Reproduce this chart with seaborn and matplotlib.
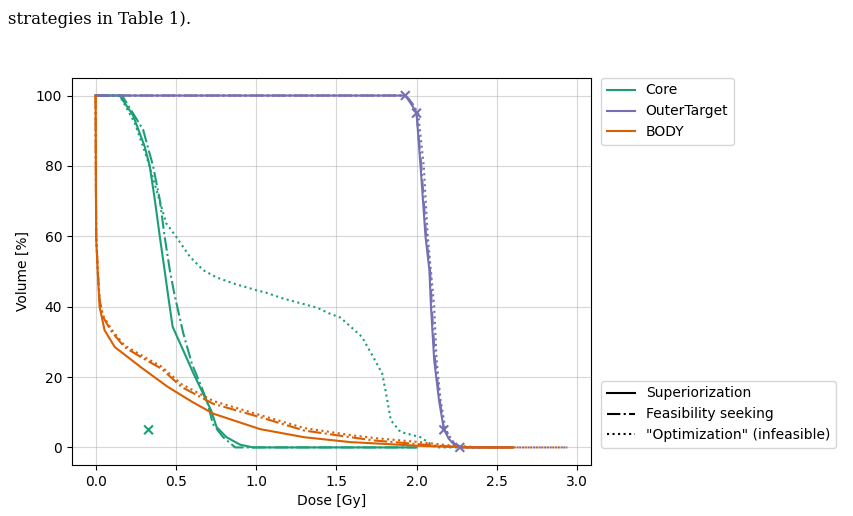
import matplotlib
matplotlib.use("Agg")
import matplotlib.pyplot as plt
import pandas as pd
import seaborn as sns
from matplotlib.lines import Line2D

# Datos (dosis en Gy, volumen en %)
structures = ["Core", "OuterTarget", "BODY"]
strategies = ["Superiorization", "Feasibility seeking", '"Optimization" (infeasible)']

core_sup_dose = [0.0, 0.15, 0.233, 0.306, 0.3375, 0.369, 0.40, 0.43, 0.45, 0.48, 0.546, 0.61, 0.67, 0.72, 0.754, 0.816, 0.90, 0.98, 2.0]
core_sup_vol = [100, 100, 94.4, 85.5, 80, 70.4, 60, 50.4, 43.8, 34.3, 27.6, 21, 15.3, 10.5, 5.8, 2.9, 0.8, 0, 0]
core_feas_dose = [0.0, 0.165, 0.296, 0.358, 0.40, 0.43, 0.4625, 0.49, 0.546, 0.60, 0.66, 0.70, 0.73, 0.795, 0.87, 2.0]
core_feas_vol = [100, 100, 90.3, 80, 70.4, 60, 50.4, 43.8, 32.5, 23.8, 17.2, 12.4, 6.7, 2.9, 0, 0]
core_opt_dose = [0.0, 0.15, 0.244, 0.317, 0.379, 0.44, 0.50, 0.5875, 0.67, 0.754, 0.858, 1.0, 1.06, 1.17, 1.30, 1.38, 1.46, 1.525, 1.59, 1.66, 1.73, 1.786, 1.81, 1.84, 1.90, 2.025, 2.08, 2.12, 2.3]
core_opt_vol = [100, 100, 92.2, 82.7, 73.2, 63.7, 60, 54.2, 50.4, 48.3, 46.6, 44.7, 44.0, 42.3, 40.7, 39.7, 38, 36.9, 34.3, 31.4, 25.7, 21, 15.4, 7.7, 4.4, 2.9, 1.2, 0, 0]

outer_sup_dose = [0.0, 1.93, 1.96, 2.0, 2.025, 2.056, 2.08, 2.09, 2.11, 2.14, 2.17, 2.20, 2.23, 2.27, 2.6]
outer_sup_vol = [100, 100, 98, 95.2, 79.9, 59.9, 50.4, 40, 24.8, 13.4, 5.3, 2.5, 1, 0, 0]
outer_feas_dose = [0.0, 1.93, 1.97, 2.0, 2.03, 2.06, 2.085, 2.095, 2.115, 2.145, 2.17, 2.21, 2.24, 2.28, 2.6]
outer_feas_vol = [100, 100, 98, 95, 80, 60, 50, 40, 25, 13.4, 5.3, 2.3, 0.9, 0, 0]
outer_opt_dose = [0.0, 1.93, 1.97, 2.01, 2.045, 2.07, 2.09, 2.11, 2.125, 2.15, 2.18, 2.22, 2.25, 2.29, 2.94]
outer_opt_vol = [100, 100, 98, 95, 80, 60, 50, 40, 25, 13.4, 5.3, 2, 0.8, 0, 0]

body_sup_dose = [0.0, 0.002, 0.004, 0.014, 0.025, 0.056, 0.12, 0.20, 0.285, 0.45, 0.60, 0.733, 1.025, 1.30, 1.59, 1.8, 2.0, 2.2, 2.4, 2.6]
body_sup_vol = [100, 75, 59, 49.4, 40, 33.3, 28.5, 25.7, 22.7, 17.2, 13, 9.6, 5.2, 2.9, 1.5, 1.0, 0.5, 0.2, 0, 0]
body_feas_dose = [0.0, 0.002, 0.004, 0.014, 0.025, 0.046, 0.10, 0.18, 0.30, 0.41, 0.535, 0.733, 1.025, 1.30, 1.59, 1.73, 1.94, 2.1, 2.3, 2.6]
body_feas_vol = [100, 75, 60, 50, 42, 37.1, 32.9, 28.5, 25.2, 22.4, 17.2, 12.4, 8.6, 4.8, 2.9, 2.0, 1.2, 0.6, 0, 0]
body_opt_dose = [0.0, 0.002, 0.004, 0.014, 0.025, 0.046, 0.10, 0.18, 0.30, 0.41, 0.535, 0.733, 1.025, 1.30, 1.59, 1.75, 2.0, 2.2, 2.4, 2.94]
body_opt_vol = [100, 75, 60, 50, 42, 37.5, 33.5, 29, 25.8, 23, 18, 13.2, 9.2, 5.5, 3.5, 2.6, 1.6, 0.6, 0, 0]

# Restricciones (marcadores x)
core_marker_dose = [0.33]
core_marker_vol = [5]
outer_marker_dose = [1.93, 2.0, 2.17, 2.27]
outer_marker_vol = [100, 95, 5, 0]

curves = {
    ("Core", strategies[0]): (core_sup_dose, core_sup_vol),
    ("Core", strategies[1]): (core_feas_dose, core_feas_vol),
    ("Core", strategies[2]): (core_opt_dose, core_opt_vol),
    ("OuterTarget", strategies[0]): (outer_sup_dose, outer_sup_vol),
    ("OuterTarget", strategies[1]): (outer_feas_dose, outer_feas_vol),
    ("OuterTarget", strategies[2]): (outer_opt_dose, outer_opt_vol),
    ("BODY", strategies[0]): (body_sup_dose, body_sup_vol),
    ("BODY", strategies[1]): (body_feas_dose, body_feas_vol),
    ("BODY", strategies[2]): (body_opt_dose, body_opt_vol),
}

frames = []
for (struct, strat), (d, v) in curves.items():
    frames.append(pd.DataFrame({"dose": d, "volume": v, "structure": struct, "strategy": strat}))
df = pd.concat(frames, ignore_index=True)

markers = pd.concat([
    pd.DataFrame({"dose": core_marker_dose, "volume": core_marker_vol, "structure": "Core"}),
    pd.DataFrame({"dose": outer_marker_dose, "volume": outer_marker_vol, "structure": "OuterTarget"}),
], ignore_index=True)

# Paleta Dark2
colores = {"Core": "#1b9e77", "OuterTarget": "#7570b3", "BODY": "#d95f02"}
estilos = {strategies[0]: "", strategies[1]: (6.4, 1.6, 1.0, 1.6), strategies[2]: (1.0, 1.65)}
estilos_mpl = {strategies[0]: "-", strategies[1]: "-.", strategies[2]: ":"}

fig = plt.figure(figsize=(8.54, 5.16), dpi=100)
ax = fig.add_axes([0.0843, 0.0988, 0.6077, 0.7502])

sns.lineplot(data=df, x="dose", y="volume", hue="structure", style="strategy",
             hue_order=structures, style_order=strategies, palette=colores,
             dashes=estilos, estimator=None, sort=False, linewidth=1.5,
             legend=False, ax=ax)
sns.scatterplot(data=markers, x="dose", y="volume", hue="structure", palette=colores,
                marker="x", s=40, linewidth=1.5, legend=False, ax=ax, zorder=3)

ax.grid(True, color="#b0b0b0", alpha=0.5, linewidth=0.8)
ax.set_axisbelow(True)
ax.set_xlabel("Dose [Gy]")
ax.set_ylabel("Volume [%]")

h1 = [Line2D([], [], color=colores[s], lw=1.5) for s in structures]
fig.legend(h1, structures, loc="upper left", bbox_to_anchor=(0.704, 0.849),
           bbox_transform=fig.transFigure, borderaxespad=0)
h2 = [Line2D([], [], color="black", lw=1.5, linestyle=estilos_mpl[s]) for s in strategies]
fig.legend(h2, strategies, loc="lower left", bbox_to_anchor=(0.704, 0.132),
           bbox_transform=fig.transFigure, borderaxespad=0)

fig.text(0.009, 0.953, "strategies in Table 1).", family="DejaVu Serif", fontsize=12,
         ha="left", va="baseline")

fig.savefig("out.png", dpi=100)
